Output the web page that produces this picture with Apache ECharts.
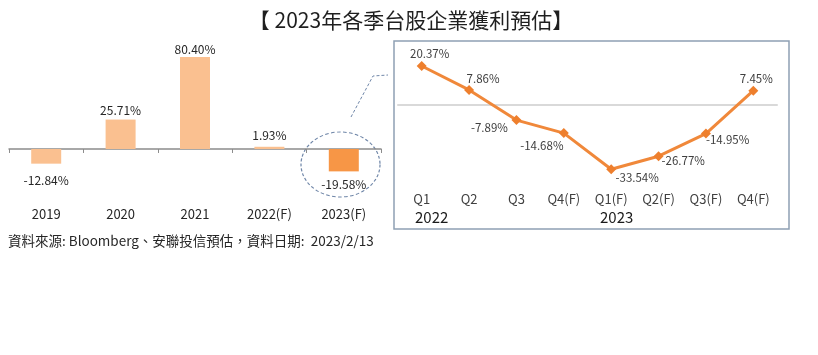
<!DOCTYPE html>
<html><head><meta charset="utf-8">
<script src="https://cdn.jsdelivr.net/npm/echarts@6/dist/echarts.min.js"></script>
<style>html,body{margin:0;padding:0;background:#fff}#c{width:818px;height:355px}</style>
</head><body><div id="c"></div>
<script>
const yearCats = ['2019', '2020', '2021', '2022(F)', '2023(F)'];
const yearVals = [-12.84, 25.71, 80.40, 1.93, -19.58];
const qCats = ['Q1', 'Q2', 'Q3', 'Q4(F)', 'Q1(F)', 'Q2(F)', 'Q3(F)', 'Q4(F)'];
const qVals = [20.37, 7.86, -7.89, -14.68, -33.54, -26.77, -14.95, 7.45];
const yearGroups = ['2022', '2023'];
const titleText = '【 2023年各季台股企業獲利預估】';
const sourceText = '資料來源: Bloomberg、安聯投信預估，資料日期:  2023/2/13';

const FONT = '"Noto Sans CJK TC", "Noto Sans", sans-serif';
const chart = echarts.init(document.getElementById('c'), null, {renderer: 'canvas'});

const barLabelDy = [8, 0, 1, -2, 4];
const qLabelPos = [
  {position: 'top', offset: [8, 3]},
  {position: 'top', offset: [14, 4]},
  {position: 'bottom', offset: [-27, -8]},
  {position: 'bottom', offset: [-22, -3]},
  {position: 'bottom', offset: [26, -7]},
  {position: 'right', offset: [-7, 4]},
  {position: 'right', offset: [-10, 6]},
  {position: 'top', offset: [3, 4]}
];

chart.setOption({
  animation: false,
  textStyle: {fontFamily: FONT},
  title: {
    text: titleText, left: 406, top: 5, textAlign: 'center',
    textStyle: {fontSize: 21, fontWeight: 'normal', color: '#1f1f1f', fontFamily: FONT}
  },
  grid: [
    {left: 9, width: 372, top: 46, height: 137.3},
    {left: 398, width: 379, top: 47.55, height: 134}
  ],
  xAxis: [
    {
      gridIndex: 0, type: 'category', data: yearCats,
      axisLine: {onZero: true, lineStyle: {color: '#8c8c8c', width: 1.5}},
      axisTick: {show: true, length: 4, lineStyle: {color: '#8c8c8c'}},
      axisLabel: {margin: 24, fontSize: 13, color: '#262626', fontFamily: FONT}
    },
    {
      gridIndex: 1, type: 'category', data: qCats,
      axisLine: {onZero: true, lineStyle: {color: '#d9d9d9', width: 2}},
      axisTick: {show: false},
      axisLabel: {margin: 11, fontSize: 13, color: '#404040', fontFamily: FONT}
    }
  ],
  yAxis: [
    {gridIndex: 0, type: 'value', min: -30, max: 90, show: false, splitLine: {show: false}},
    {gridIndex: 1, type: 'value', min: -40, max: 30, show: false, splitLine: {show: false}}
  ],
  series: [
    {
      type: 'bar', xAxisIndex: 0, yAxisIndex: 0, barWidth: 30,
      data: yearVals.map((v, i) => ({
        value: v,
        itemStyle: {color: i === yearVals.length - 1 ? '#F79646' : '#FAC090'}
      })),
      label: {
        show: true, position: 'outside', distance: 3,
        formatter: p => p.value.toFixed(2) + '%',
        fontSize: 12, color: '#262626', fontFamily: FONT
      },
      labelLayout: p => ({dy: barLabelDy[p.dataIndex], hideOverlap: false})
    },
    {
      type: 'line', xAxisIndex: 1, yAxisIndex: 1,
      data: qVals.map((v, i) => ({value: v, label: qLabelPos[i]})),
      lineStyle: {color: '#F0883A', width: 3},
      itemStyle: {color: '#EE7F2D'},
      symbol: 'diamond', symbolSize: 10, showAllSymbol: true,
      label: {
        show: true, fontSize: 11.5, color: '#404040', fontFamily: FONT,
        formatter: p => p.value.toFixed(2) + '%'
      }
    }
  ],
  graphic: [
    {type: 'rect', shape: {x: 394, y: 41, width: 395, height: 188}, style: {fill: 'none', stroke: '#8EA0B4', lineWidth: 1.5}, z: -1},
    {type: 'circle', shape: {cx: 0, cy: 0, r: 32.5}, x: 340.5, y: 164.5, scaleX: 39.5 / 32.5, scaleY: 1,
      style: {fill: 'none', stroke: '#6F86A8', lineWidth: 1, lineDash: [3, 2]}},
    {type: 'polyline', shape: {points: [[351, 117], [373, 76], [388, 75]]},
      style: {fill: 'none', stroke: '#6F86A8', lineWidth: 1, lineDash: [3, 2]}},
    {type: 'text', x: 415, y: 210, style: {text: yearGroups[0], fontSize: 15, fill: '#1a1a1a', fontFamily: FONT}},
    {type: 'text', x: 600, y: 210, style: {text: yearGroups[1], fontSize: 15, fill: '#1a1a1a', fontFamily: FONT}},
    {type: 'text', x: 8, y: 234, style: {text: sourceText, fontSize: 13.5, fill: '#262626', fontFamily: FONT}}
  ]
});
</script></body></html>
